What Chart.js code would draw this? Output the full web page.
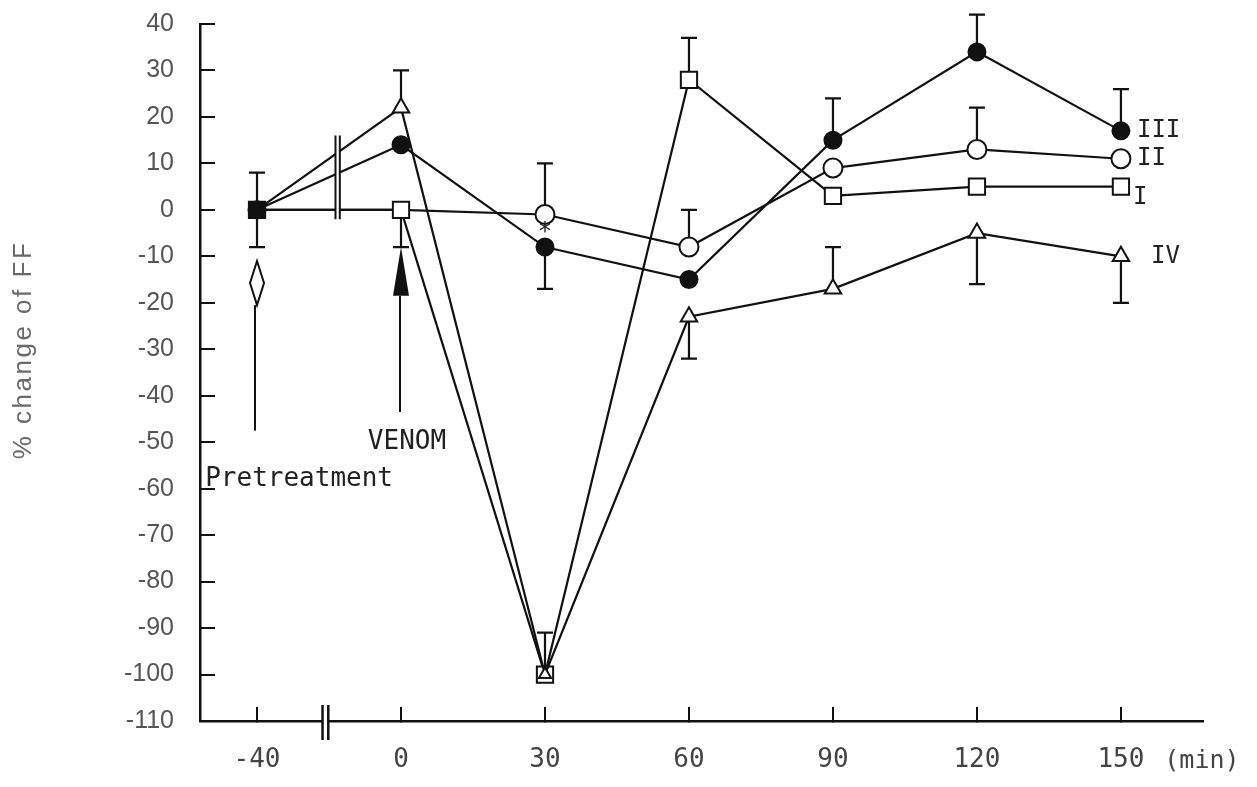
<!DOCTYPE html>
<html>
<head>
<meta charset="utf-8">
<script src="https://cdn.jsdelivr.net/npm/chart.js@4.4.0/dist/chart.umd.min.js"></script>
<style>
  body { margin: 0; background: #fff; }
  #wrap { width: 1257px; height: 787px; position: relative; }
</style>
</head>
<body>
<div id="wrap"><canvas id="ffChart"></canvas></div>
<script>
// time after venom (min); -40 is the pretreatment point, axis is broken after it
const timeLabels = ["-40", "0", "30", "60", "90", "120", "150"];

// % change of FF for each group
const groupI = [0, 0, -100, 28, 3, 5, 5];
const groupII = [0, 0, -1, -8, 9, 13, 11];
const groupIII = [0, 14, -8, -15, 15, 34, 17];
const groupIV = [0, 22, -100, -23, -17, -5, -10];

// error bars, one-sided like in the figure (null = not drawn)
const errUpI = [null, null, 9, 9, null, null, null];
const errDownI = [null, 8, null, null, null, null, null];
const errUpII = [null, null, 11, 8, null, 9, null];
const errDownII = [null, null, null, null, null, null, null];
const errUpIII = [8, null, null, null, 9, 8, 9];
const errDownIII = [8, null, 9, null, null, null, null];
const errUpIV = [null, 8, null, null, 9, null, null];
const errDownIV = [null, null, null, 9, null, 11, 10];

const ink = "#111";

const toPoints = (values) => values.map((v, i) => ({ x: i, y: v }));

const makeSet = (label, values, up, down, style, fill, radius) => ({
  label: label,
  data: toPoints(values),
  values: values,
  errUp: up,
  errDown: down,
  borderColor: ink,
  borderWidth: 2.2,
  tension: 0,
  pointStyle: style,
  pointRadius: radius,
  pointBackgroundColor: fill,
  pointBorderColor: ink,
  pointBorderWidth: 2,
});

const errorBars = {
  id: "errorBars",
  beforeDatasetsDraw(chart) {
    const { ctx } = chart;
    const x = chart.scales.x;
    const y = chart.scales.y;
    ctx.save();
    ctx.strokeStyle = ink;
    ctx.lineWidth = 2.2;
    chart.data.datasets.forEach((ds) => {
      ds.values.forEach((v, i) => {
        const px = x.getPixelForValue(i);
        const py = y.getPixelForValue(v);
        [[ds.errUp[i], 1], [ds.errDown[i], -1]].forEach(([e, dir]) => {
          if (e == null) return;
          const ey = y.getPixelForValue(v + dir * e);
          ctx.beginPath();
          ctx.moveTo(px, py);
          ctx.lineTo(px, ey);
          ctx.moveTo(px - 8, ey);
          ctx.lineTo(px + 8, ey);
          ctx.stroke();
        });
      });
    });
    ctx.restore();
  },
};

const notes = {
  id: "notes",
  afterDraw(chart) {
    const { ctx } = chart;
    const x = chart.scales.x;
    const y = chart.scales.y;
    ctx.save();
    ctx.strokeStyle = ink;
    ctx.fillStyle = ink;
    ctx.lineWidth = 2;

    // pretreatment marker: open diamond + line
    const dx = x.getPixelForValue(0);
    const dTop = y.getPixelForValue(-11);
    const dBot = y.getPixelForValue(-20.5);
    ctx.beginPath();
    ctx.moveTo(dx, dTop);
    ctx.lineTo(dx + 7, (dTop + dBot) / 2);
    ctx.lineTo(dx, dBot);
    ctx.lineTo(dx - 7, (dTop + dBot) / 2);
    ctx.closePath();
    ctx.fillStyle = "#fff";
    ctx.fill();
    ctx.stroke();
    ctx.beginPath();
    ctx.moveTo(dx - 2, dBot);
    ctx.lineTo(dx - 2, y.getPixelForValue(-47.5));
    ctx.stroke();

    // venom arrow
    const vx = x.getPixelForValue(1);
    const aTop = y.getPixelForValue(-8);
    const aBot = y.getPixelForValue(-18.5);
    ctx.fillStyle = ink;
    ctx.beginPath();
    ctx.moveTo(vx, aTop);
    ctx.lineTo(vx + 8, aBot);
    ctx.lineTo(vx - 8, aBot);
    ctx.closePath();
    ctx.fill();
    ctx.beginPath();
    ctx.moveTo(vx - 1, aBot);
    ctx.lineTo(vx - 1, y.getPixelForValue(-43.5));
    ctx.stroke();

    // break marks on the lines between -40 and 0
    const b1 = x.getPixelForValue(0.545);
    const b2 = x.getPixelForValue(0.575);
    const bTop = y.getPixelForValue(16);
    const bBot = y.getPixelForValue(-2);
    ctx.fillStyle = "#fff";
    ctx.fillRect(b1, bTop, b2 - b1, bBot - bTop);
    ctx.beginPath();
    ctx.moveTo(b1, bTop);
    ctx.lineTo(b1, bBot);
    ctx.moveTo(b2, bTop);
    ctx.lineTo(b2, bBot);
    ctx.stroke();

    // break marks on the time axis
    const k1 = x.getPixelForValue(0.455);
    const k2 = x.getPixelForValue(0.495);
    ctx.fillStyle = "#fff";
    ctx.fillRect(k1, x.top - 3, k2 - k1, 6);
    ctx.lineWidth = 2.5;
    ctx.beginPath();
    ctx.moveTo(k1, x.top - 16);
    ctx.lineTo(k1, x.top + 19);
    ctx.moveTo(k2, x.top - 16);
    ctx.lineTo(k2, x.top + 19);
    ctx.stroke();

    // texts
    ctx.fillStyle = "#222";
    ctx.textBaseline = "middle";
    ctx.font = '26px "DejaVu Sans Mono"';
    ctx.textAlign = "center";
    ctx.fillText("VENOM", vx + 6, y.getPixelForValue(-50));
    ctx.textAlign = "left";
    ctx.fillText("Pretreatment", x.getPixelForValue(-0.36), y.getPixelForValue(-58));

    ctx.font = '24px "DejaVu Sans Mono"';
    ctx.textAlign = "center";
    ctx.fillText("*", x.getPixelForValue(2), y.getPixelForValue(-5));

    // group names at the right end
    const gx = x.getPixelForValue(6);
    ctx.font = '24px "DejaVu Sans Mono"';
    ctx.textAlign = "left";
    ctx.fillText("III", gx + 16, y.getPixelForValue(17));
    ctx.fillText("II", gx + 16, y.getPixelForValue(11));
    ctx.fillText("I", gx + 12, y.getPixelForValue(2.5));
    ctx.fillText("IV", gx + 30, y.getPixelForValue(-10));

    // axis unit
    ctx.fillStyle = "#444";
    ctx.font = '25px "DejaVu Sans Mono"';
    ctx.textAlign = "center";
    ctx.fillText("(min)", gx + 81, x.top + 40);

    // y axis title
    ctx.translate(24, 350);
    ctx.rotate(-Math.PI / 2);
    ctx.fillStyle = "#6a6a6a";
    ctx.font = '26px "Liberation Sans"';
    ctx.letterSpacing = "2.5px";
    ctx.fillText("% change of FF", 0, 0);
    ctx.restore();
  },
};

new Chart(document.getElementById("ffChart"), {
  type: "line",
  data: {
    datasets: [
      makeSet("IV", groupIV, errUpIV, errDownIV, "triangle", "#fff", [0, 9.5, 7, 9.5, 9.5, 9.5, 9.5]),
      makeSet("III", groupIII, errUpIII, errDownIII, "circle", ink, 8.5),
      makeSet("I", groupI, errUpI, errDownI, "rect", [ink, "#fff", "#fff", "#fff", "#fff", "#fff", "#fff"], 11.5),
      makeSet("II", groupII, errUpII, errDownII, "circle", "#fff", [0, 0, 9.5, 9.5, 9.5, 9.5, 9.5]),
    ],
  },
  options: {
    responsive: true,
    maintainAspectRatio: false,
    animation: false,
    layout: {
      padding: { top: 24, right: 54, left: 0, bottom: 0 },
    },
    scales: {
      x: {
        type: "linear",
        min: -0.396,
        max: 6.57,
        afterBuildTicks: (scale) => {
          scale.ticks = timeLabels.map((_, i) => ({ value: i }));
        },
        afterFit: (scale) => {
          scale.height = 66;
          scale.paddingLeft = 0;
          scale.paddingRight = 0;
        },
        grid: {
          drawOnChartArea: false,
          tickLength: -14,
          color: ink,
          lineWidth: 2,
        },
        border: { color: ink, width: 2.5 },
        ticks: {
          callback: (value) => timeLabels[value],
          font: { family: '"DejaVu Sans Mono"', size: 26 },
          color: "#444",
          padding: 38,
          maxRotation: 0,
          autoSkip: false,
        },
      },
      y: {
        min: -110,
        max: 40,
        afterFit: (scale) => {
          scale.width = 200;
          scale.paddingTop = 0;
          scale.paddingBottom = 0;
        },
        grid: {
          drawOnChartArea: false,
          tickLength: -15,
          color: ink,
          lineWidth: 2,
        },
        border: { color: ink, width: 2.5 },
        ticks: {
          stepSize: 10,
          font: { family: '"Liberation Sans"', size: 25 },
          color: "#555",
          padding: 41,
          autoSkip: false,
        },
      },
    },
    plugins: {
      legend: { display: false },
      tooltip: { enabled: false },
    },
  },
  plugins: [errorBars, notes],
});
</script>
</body>
</html>
